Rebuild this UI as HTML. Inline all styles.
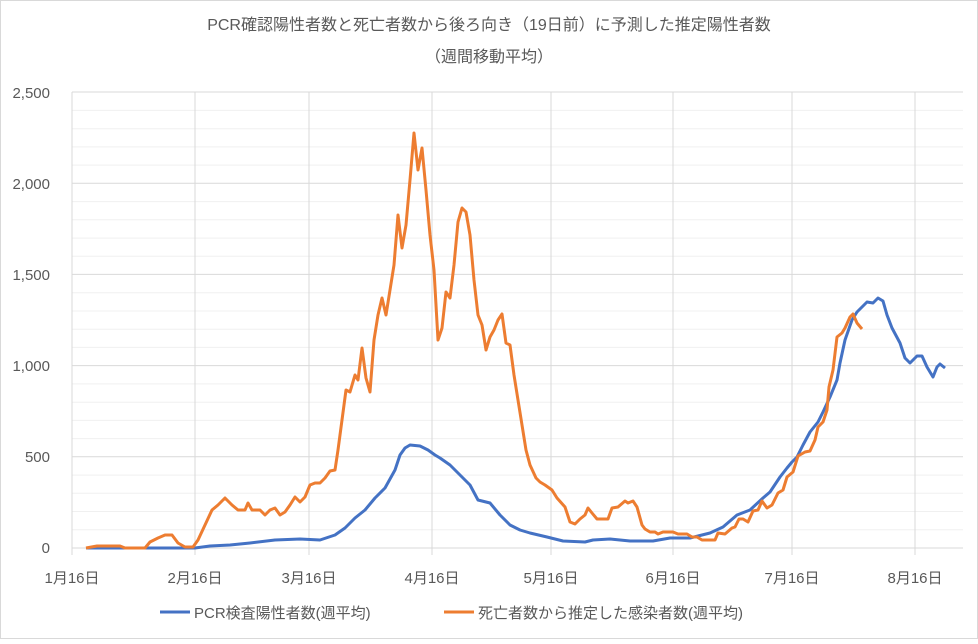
<!DOCTYPE html>
<html><head><meta charset="utf-8"><style>
body{margin:0;background:#fff;}
text{font-family:"Liberation Sans","Noto Sans CJK JP",sans-serif;fill:#595959;}
</style></head><body>
<svg width="978" height="639" viewBox="0 0 978 639" xmlns="http://www.w3.org/2000/svg">
<rect x="0.5" y="0.5" width="977" height="638" fill="#fff" stroke="#d9d9d9"/>
<text x="489" y="30" font-size="16" text-anchor="middle">PCR確認陽性者数と死亡者数から後ろ向き（19日前）に予測した推定陽性者数</text>
<text x="489" y="62" font-size="16" text-anchor="middle">（週間移動平均）</text>
<g stroke="#f0f0f0" stroke-width="1">
<path d="M72 529.8H963M72 511.5H963M72 493.3H963M72 475.1H963M72 438.6H963M72 420.4H963M72 402.2H963M72 383.9H963M72 347.4H963M72 329.2H963M72 311H963M72 292.8H963M72 256.3H963M72 238.1H963M72 219.8H963M72 201.6H963M72 165.1H963M72 146.9H963M72 128.7H963M72 110.4H963"/>
</g>
<g stroke="#d9d9d9" stroke-width="1">
<path d="M72 548H963M72 456.8H963M72 365.6H963M72 274.4H963M72 183.2H963M72 92H963"/>
<path d="M72 92V555M195 92V555M309 92V555M432 92V555M551 92V555M673 92V555M792 92V555M915 92V555"/>
</g>
<g font-size="15" text-anchor="end">
<text x="50" y="553">0</text><text x="50" y="462">500</text><text x="50" y="371">1,000</text><text x="50" y="280">1,500</text><text x="50" y="189">2,000</text><text x="50" y="98">2,500</text>
</g>
<g font-size="15" text-anchor="middle">
<text x="72" y="583">1月16日</text><text x="195" y="583">2月16日</text><text x="309" y="583">3月16日</text><text x="432" y="583">4月16日</text><text x="551" y="583">5月16日</text><text x="673" y="583">6月16日</text><text x="792" y="583">7月16日</text><text x="915" y="583">8月16日</text>
</g>
<polyline fill="none" stroke="#4472c4" stroke-width="3" stroke-linejoin="round" points="86,548 195,548 210,546 230,545 250,543 275,540 300,539 320,540 335,535 345,528 355,518 365,510 375,498 385,488 395,470 400,455 405,448 410,445 420,446 428,450 435,455 440,458 450,465 460,475 470,485 478,500 490,503 500,515 510,525 520,530 530,533 547,537 563,541 585,542 593,540 610,539 630,541 653,541 670,538 690,538 710,533 723,527 737,515 750,510 763,498 770,492 780,477 787,468 792,462 797,457 803,445 810,432 818,422 823,412 830,397 837,380 840,363 845,340 852,320 857,312 862,307 867,302 873,303 878,298 883,301 887,315 892,328 900,343 905,358 910,363 917,356 922,356 927,367 933,377 937,367 940,364 945,368"/>
<polyline fill="none" stroke="#ed7d31" stroke-width="3" stroke-linejoin="round" points="86,548 97,546 120,546 125,548 145,548 150,542 158,538 165,535 172,535 178,543 185,547 193,547 198,540 205,525 212,510 218,505 225,498 232,505 238,510 245,510 248,503 252,510 260,510 265,515 270,510 275,508 280,515 285,512 290,505 295,497 300,502 305,497 310,485 315,483 320,483 325,478 330,471 335,470 338,450 342,420 346,390 350,392 355,375 358,380 362,348 366,378 370,392 374,340 378,315 382,298 386,315 390,290 394,265 398,215 402,248 406,225 410,180 414,133 418,170 422,148 426,190 430,235 434,270 438,340 442,328 446,292 450,298 454,265 458,222 462,208 466,212 470,235 474,280 478,315 482,325 486,350 490,337 494,330 498,320 502,314 506,343 510,345 514,375 518,400 522,425 526,450 530,465 536,478 540,482 545,485 552,490 557,498 565,507 570,522 575,524 580,519 585,515 588,508 592,513 597,519 608,519 612,508 618,507 625,501 628,503 633,501 637,507 642,525 645,529 650,532 655,532 658,534 663,532 673,532 678,534 687,534 692,537 697,537 702,540 715,540 718,533 725,534 732,528 735,527 739,519 743,519 748,522 753,511 758,510 762,501 767,508 772,505 778,493 783,490 787,477 793,472 798,456 805,452 810,451 815,440 818,427 823,422 827,410 829,387 833,370 837,337 842,333 845,328 850,317 853,314 857,323 862,329"/>
<line x1="160" y1="612" x2="190" y2="612" stroke="#4472c4" stroke-width="3"/>
<text x="194" y="618" font-size="15">PCR検査陽性者数(週平均)</text>
<line x1="444" y1="612" x2="474" y2="612" stroke="#ed7d31" stroke-width="3"/>
<text x="478" y="618" font-size="15">死亡者数から推定した感染者数(週平均)</text>
</svg>
</body></html>
